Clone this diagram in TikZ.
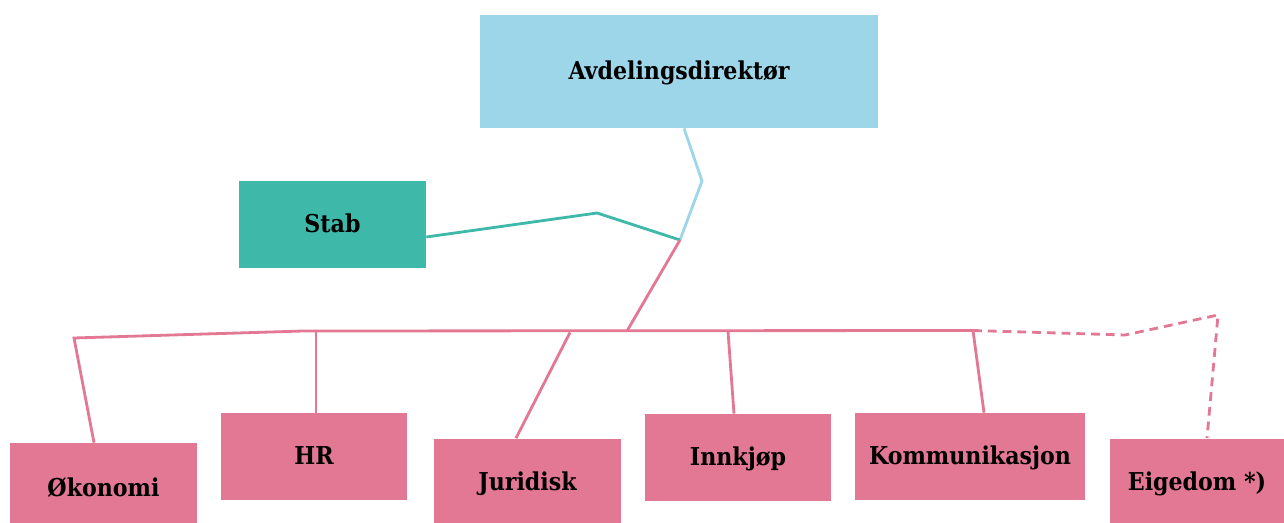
\documentclass[tikz,border=0pt]{standalone}
\usepackage{fontspec}
\setmainfont{DejaVu Serif Condensed}
\definecolor{blaa}{HTML}{9DD6E8}
\definecolor{gronn}{HTML}{3DB8A9}
\definecolor{rosa}{HTML}{E27893}
\tikzset{
  boks/.style={fill=#1,minimum width=3.74cm,minimum height=1.74cm,inner sep=0pt,text height=9.6pt,text depth=0pt,font=\bfseries\fontsize{14}{16}\selectfont},
  linje/.style={line width=1.6pt,draw=#1}
}
\begin{document}
\begin{tikzpicture}[x=0.02cm,y=-0.02cm]
  \useasboundingbox (0,0) rectangle (1284,523);
  % boksene
  \node[boks=blaa,minimum width=7.96cm,minimum height=2.26cm] (dir) at (679,71.5) {Avdelingsdirektør};
  \node[boks=gronn] (stab) at (332.5,224.5) {Stab};
  \node[boks=rosa,minimum height=1.8cm] (oko) at (103.5,488) {Økonomi};
  \node[boks=rosa] (hr) at (314,456.5) {HR};
  \node[boks=rosa,minimum height=1.74cm] (jur) at (527.5,482) {Juridisk};
  \node[boks=rosa] (innk) at (738,457.5) {Innkjøp};
  \node[boks=rosa,minimum width=4.6cm] (komm) at (970,456.5) {Kommunikasjon};
  \node[boks=rosa,minimum width=3.48cm,minimum height=1.74cm] (eig) at (1197,482) {Eigedom *)};
  % knekkpunkt
  \coordinate (m) at (680,240);
  \coordinate (l) at (627,331);
  % linjene
  \draw[linje=blaa] (dir.south -| 684,0) -- (702,181) -- (m);
  \draw[linje=gronn] (stab.east |- 0,237) -- (597,213) -- (m);
  \draw[linje=rosa] (m) -- (l);
  \draw[linje=rosa] (oko.north -| 94,0) -- (74,338) -- (303,331) -- (973,330.5);
  \draw[linje=rosa] (hr.north -| 316,0) -- (316,331);
  \draw[linje=rosa] (jur.north -| 516,0) -- (570,332.5);
  \draw[linje=rosa] (innk.north -| 734,0) -- (728,331.5);
  \draw[linje=rosa] (komm.north -| 984,0) -- (973,330.5);
  \draw[linje=rosa,dash pattern=on 5pt off 3.4pt] (973,330.5) -- (1125,335) -- (1218,315) -- (eig.north -| 1207,0);
\end{tikzpicture}
\end{document}
